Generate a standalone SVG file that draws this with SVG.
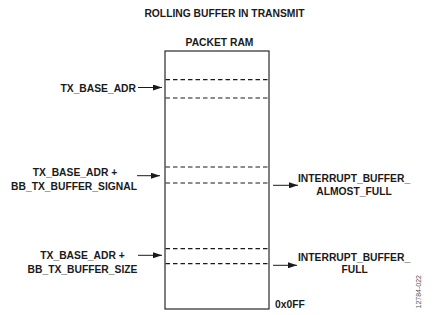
<svg xmlns="http://www.w3.org/2000/svg" width="435" height="315" viewBox="0 0 435 315">
<style>
text{font-family:"Liberation Sans",Arial,sans-serif;font-weight:bold;font-size:10.3px;fill:#1a1a1a}
.mid{text-anchor:middle}
.box{fill:#fff;stroke:#3a3a3a;stroke-width:1.3}
.dash{stroke:#1a1a1a;stroke-width:1.2;stroke-dasharray:4.5,3;fill:none}
.conn line{stroke:#1a1a1a;stroke-width:1}
</style>
<defs>
<marker id="ah" viewBox="0 0 9 6" refX="9" refY="3" markerWidth="9" markerHeight="6" markerUnits="userSpaceOnUse" orient="auto">
<path d="M0,0 L9,3 L0,6 Z" fill="#1a1a1a"/>
</marker>
</defs>
<rect width="435" height="315" fill="#fff"/>
<text x="224.5" y="17" class="mid">ROLLING BUFFER IN TRANSMIT</text>
<g id="packet-ram">
<text x="219.5" y="45.5" class="mid">PACKET RAM</text>
<rect class="box" x="165" y="51" width="104" height="258"/>
<line class="dash" x1="165.5" y1="79.7" x2="269" y2="79.7"/>
<line class="dash" x1="165.5" y1="98" x2="269" y2="98"/>
<line class="dash" x1="165.5" y1="167" x2="269" y2="167"/>
<line class="dash" x1="165.5" y1="183" x2="269" y2="183"/>
<line class="dash" x1="165.5" y1="248.7" x2="269" y2="248.7"/>
<line class="dash" x1="165.5" y1="263.7" x2="269" y2="263.7"/>
<text x="275" y="308.3">0x0FF</text>
</g>
<g id="tx-base-adr">
<text x="136" y="91.7" text-anchor="end">TX_BASE_ADR</text>
</g>
<g id="tx-base-signal">
<text x="75" y="175.7" class="mid">TX_BASE_ADR +</text>
<text x="74" y="190" class="mid">BB_TX_BUFFER_SIGNAL</text>
</g>
<g id="tx-base-size">
<text x="82.5" y="258.7" class="mid">TX_BASE_ADR +</text>
<text x="82.5" y="272.7" class="mid">BB_TX_BUFFER_SIZE</text>
</g>
<g id="int-almost-full">
<text x="298" y="182">INTERRUPT_BUFFER_</text>
<text x="354" y="194.7" class="mid">ALMOST_FULL</text>
</g>
<g id="int-full">
<text x="298" y="260.7">INTERRUPT_BUFFER_</text>
<text x="354.7" y="273.3" class="mid">FULL</text>
</g>
<g class="conn" id="connectors">
<line x1="138" y1="87.5" x2="162" y2="87.5" marker-end="url(#ah)"/>
<line x1="137" y1="175.7" x2="160" y2="175.7" marker-end="url(#ah)"/>
<line x1="138" y1="255.3" x2="162" y2="255.3" marker-end="url(#ah)"/>
<line x1="273" y1="185.3" x2="298" y2="185.3" marker-end="url(#ah)"/>
<line x1="273" y1="265.3" x2="297" y2="265.3" marker-end="url(#ah)"/>
</g>
<text transform="translate(420.5,308.5) rotate(-90)" style="font-size:7px;font-weight:normal;fill:#555">12784-022</text>
</svg>
